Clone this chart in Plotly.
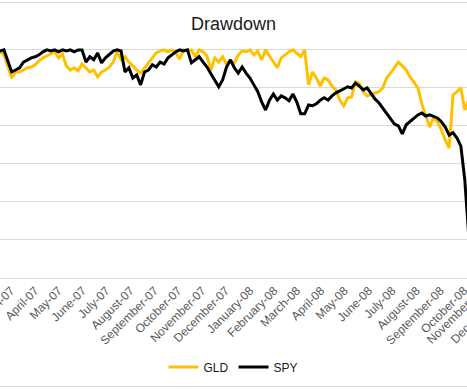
import pandas as pd
import plotly.graph_objects as go

# ---- data (drawdown in %, sampled every 5 calendar days) ----
start_date = "2007-02-10"
n_points = 122

gld = [0, -0.5, -1.3, -4.2, -7.4, -5.8, -5.8, -5.3, -4.7, -4.5,
       -3.9, -2.9, -2.1, -1.6, -1.1, -0.5, -2.1, -1.1, -4.2, -5.3,
       -4.7, -5.5, -3.7, -4.7, -5.8, -5.3, -7.1, -5.8, -5.3, -4.5,
       -3.2, -0.5, -2.6, -1.8, -3.2, -4.2, -5.3, -6.1, -4.7, -3.4,
       -2.1, -0.8, -0.3, 0, -0.5, 0, -0.8, -2.4, 0, -0.3,
       0, -1.8, 0, -0.5, -1.6, -5.3, -2.1, -3.2, -1.8, -3.7,
       -2.9, -3.4, -1.3, -0.3, -0.5, 0, -1.3, -0.3, -2.6, 0,
       -1.6, -3.2, -4.7, -2.1, -1.3, -0.5, 0, -0.8, -1.8, 0,
       -9.2, -5.8, -7.4, -9.5, -7.4, -7.9, -9.5, -10.5, -13.2, -14.7,
       -12.6, -12.4, -8.4, -8.9, -11.0, -12.1, -11.8, -11.3, -11.0, -10.0,
       -7.4, -6.1, -4.7, -3.2, -4.2, -5.3, -7.1, -8.4, -10.0, -14.2,
       -17.1, -20.3, -17.9, -18.9, -21.0, -23.7, -25.8, -11.8, -11.0, -10.0,
       -15.8, -13.2]

spy = [0, -0.3, 0, -3.2, -5.8, -5.3, -4.7, -3.2, -2.6, -2.1,
       -1.8, -1.3, -0.5, 0, -0.3, 0, -0.5, 0, -0.3, 0,
       -0.5, 0, 0, -3.2, -1.8, -2.6, -0.8, -3.4, -2.1, -1.3,
       -0.3, 0, -0.3, -5.8, -4.7, -7.4, -6.6, -9.2, -5.8, -5.3,
       -3.9, -4.5, -3.2, -3.7, -2.1, -1.3, -0.5, 0, -0.3, 0,
       -3.4, -2.6, -1.8, -3.2, -4.5, -6.3, -7.9, -9.7, -7.9, -4.5,
       -2.6, -4.7, -6.1, -4.5, -6.1, -7.4, -9.2, -11.0, -13.7, -15.8,
       -13.2, -11.6, -13.2, -12.1, -12.6, -13.4, -11.6, -13.7, -16.8, -16.8,
       -14.5, -14.7, -14.2, -13.2, -12.6, -13.2, -12.1, -11.3, -10.8, -10.3,
       -9.7, -10.0, -8.7, -9.5, -10.5, -10.0, -11.6, -12.9, -13.9, -15.3,
       -16.8, -18.4, -19.5, -20.0, -22.1, -19.7, -18.9, -17.9, -17.1, -16.6,
       -17.4, -17.1, -17.6, -17.9, -18.9, -20.3, -22.4, -21.8, -23.2, -25.3,
       -34.2, -48.7]

series_names = ["GLD", "SPY"]
series_colors = ["#FFC000", "#000000"]

x_range = ["2007-02-15", "2008-10-04 20:00"]
y_range = [-60, 0.5]
# month labels lying just beyond the visible right edge (partly visible)
offscreen_ticks = ["2008-11-01", "2008-12-01"]

dates = pd.date_range(start_date, periods=n_points, freq="5D")

FONT = "Liberation Sans, Arial, sans-serif"
TICK_SIZE = 12

fig = go.Figure()
for name, vals, col in zip(series_names, [gld, spy], series_colors):
    fig.add_trace(go.Scatter(x=dates, y=vals, mode="lines", name=name,
                             line=dict(color=col, width=3)))

r0 = pd.Timestamp(x_range[0])
r1 = pd.Timestamp(x_range[1])
def to_paper(d):
    return (pd.Timestamp(d) - r0) / (r1 - r0)

H_PLOT = 230.0   # plot-area height in px
B_MARGIN = 112
def py_to_paper(py):
    return ((390 - B_MARGIN) - py) / H_PLOT

annotations = []
for d in offscreen_ticks:
    annotations.append(dict(
        x=to_paper(d), y=py_to_paper(282), xref="paper", yref="paper",
        text=pd.Timestamp(d).strftime("%B-%y"), showarrow=False,
        textangle=-45, xanchor="right", yanchor="top",
        font=dict(family=FONT, size=TICK_SIZE, color="#595959")))

fig.update_layout(
    width=467, height=390,
    template="none",
    paper_bgcolor="white", plot_bgcolor="white",
    margin=dict(l=0, r=0, t=48, b=B_MARGIN, pad=0, autoexpand=False),
    font=dict(family=FONT, color="#595959"),
    title=dict(text="Drawdown", x=0.5, xanchor="center",
               y=1 - 24 / 390, yanchor="middle",
               font=dict(family=FONT, size=18, color="#1a1a1a"),
               automargin=False),
    showlegend=True,
    legend=dict(orientation="h", x=0.5, xanchor="center",
                y=py_to_paper(367), yanchor="middle",
                font=dict(family=FONT, size=12, color="#1a1a1a"),
                bgcolor="rgba(0,0,0,0)"),
    xaxis=dict(type="date", range=x_range, dtick="M1", tick0="2007-01-01",
               tickformat="%B-%y", tickangle=-45, showgrid=False,
               showline=True, linecolor="#d9d9d9", linewidth=1,
               ticks="", tickfont=dict(family=FONT, size=TICK_SIZE, color="#595959"),
               ticklabeloverflow="allow", automargin=False),
    yaxis=dict(range=y_range, dtick=10, tick0=0, showticklabels=False,
               showgrid=True, gridcolor="#d9d9d9", gridwidth=1,
               zeroline=False, showline=False, ticks="", automargin=False),
    shapes=[
        dict(type="line", xref="paper", yref="paper", x0=-0.1, x1=1.1,
             y0=py_to_paper(2.5), y1=py_to_paper(2.5),
             line=dict(color="#d9d9d9", width=1)),
        dict(type="line", xref="paper", yref="paper", x0=-0.1, x1=1.1,
             y0=py_to_paper(386.5), y1=py_to_paper(386.5),
             line=dict(color="#d9d9d9", width=1)),
    ],
    annotations=annotations,
)

fig.write_html("out.html",
               config={"displayModeBar": False},
               post_script="document.body.style.margin='0';"
                           "document.body.style.overflow='hidden';")
